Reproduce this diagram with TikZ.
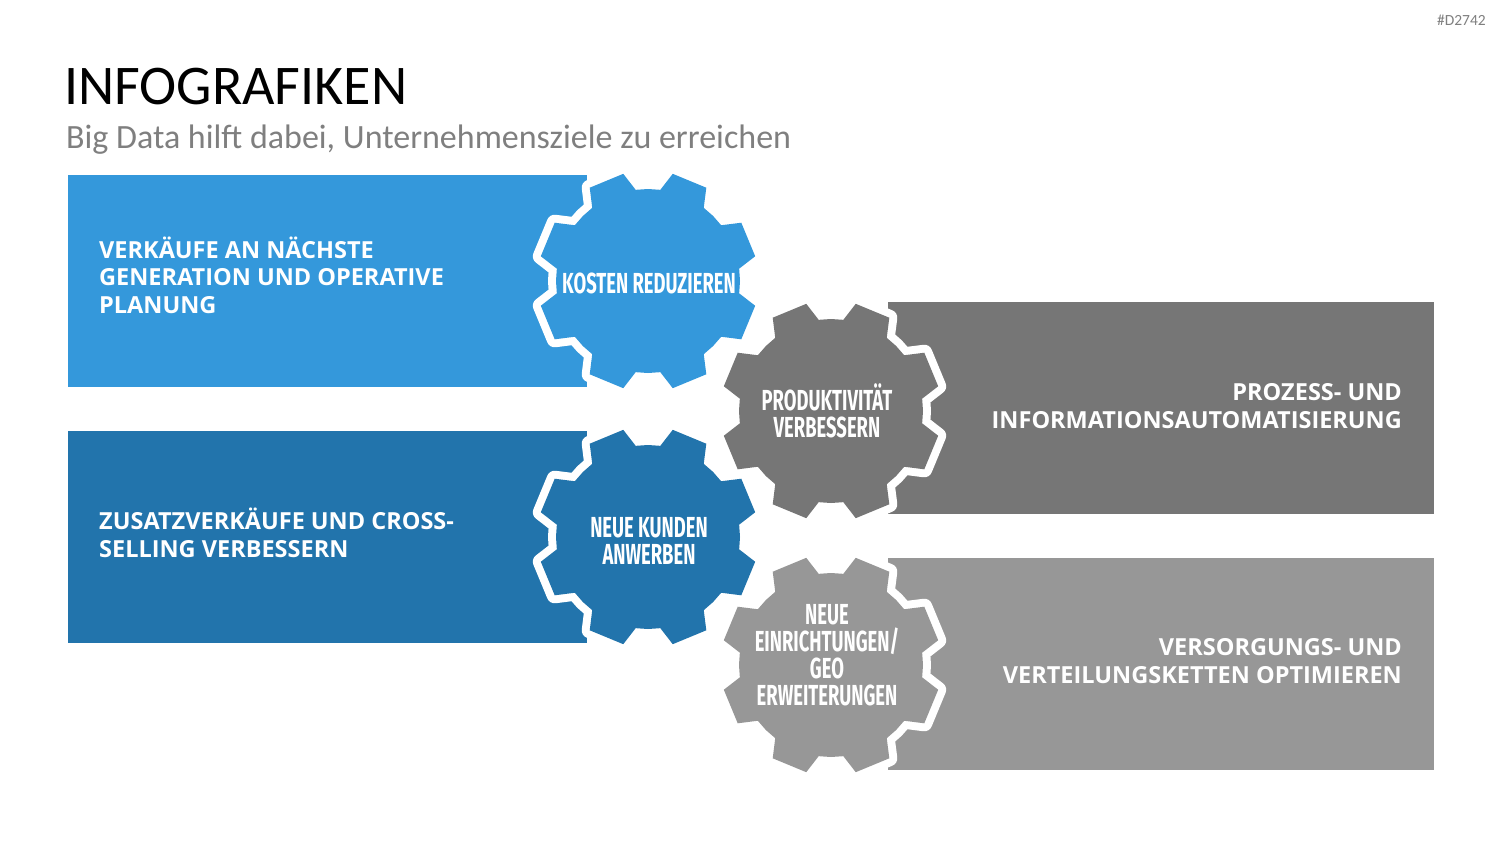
\documentclass[tikz,border=0pt]{standalone}
\usepackage{fontspec}
\usepackage{xcolor}
\setmainfont{Carlito}
\newfontfamily\panelfont{Open Sans}
\newfontfamily\gearfont[FakeStretch=0.635]{Fira Sans}
\definecolor{InfoBlue}{HTML}{3498DB}
\definecolor{InfoDarkBlue}{HTML}{2274AC}
\definecolor{InfoDarkGray}{HTML}{767676}
\definecolor{InfoLightGray}{HTML}{979797}
\definecolor{InfoText}{HTML}{7F7F7F}
% gear with 8 teeth: centre x, centre y, colour
\newcommand{\gearshape}[3]{%
  \fill[gear=#3,shift={(#1,#2)}] (0:92)
    \foreach \a in {22.5,67.5,...,337.5}{
      -- (\a-14.8:92) -- (\a-9.5:110) -- (\a+9.5:110) -- (\a+14.8:92)
      -- (\a+22.5:92)} -- cycle;}

\begin{document}
\begin{tikzpicture}[x=1pt,y=-1pt,
  gear/.style={fill=#1,preaction={draw=white,line width=16pt,line join=round}},
  panel/.style={fill=#1},
  paneltxt/.style={text=white,inner sep=0pt,
    font=\panelfont\bfseries\fontsize{23.5}{27.5}\selectfont},
  geartxt/.style={text=white,inner sep=0pt,align=center,
    font=\gearfont\bfseries\fontsize{29}{27}\selectfont}]
  \useasboundingbox (0,0) rectangle (1500,844);

  \node[anchor=base east,text=InfoText,inner sep=0pt,font=\fontsize{15.5}{17}\selectfont]
    (tag) at (1486,25) {\#D2742};
  \node[anchor=base west,inner sep=0pt,font=\fontsize{56}{60}\selectfont]
    (title) at (64,104) {INFOGRAFIKEN};
  \node[anchor=base west,inner sep=0pt,text=InfoText,font=\fontsize{34}{36}\selectfont]
    (subtitle) at (66,148) {Big Data hilft dabei, Unternehmensziele zu erreichen};

  % left panels and blue gears
  \fill[panel=InfoBlue] (68,175) rectangle (587,387);
  \fill[panel=InfoDarkBlue] (68,431) rectangle (587,643);
  \gearshape{648}{281}{InfoBlue}
  \gearshape{648}{537}{InfoDarkBlue}

  % right panels and gray gears
  \fill[panel=InfoDarkGray] (888,302) rectangle (1434,514);
  \fill[panel=InfoLightGray] (888,558) rectangle (1434,770);
  \gearshape{831}{411}{InfoDarkGray}
  \gearshape{831}{665}{InfoLightGray}

  \node[paneltxt,anchor=base west,align=left] (sales) at (99,313)
    {VERKÄUFE AN NÄCHSTE\\GENERATION UND OPERATIVE\\PLANUNG};
  \node[paneltxt,anchor=base west,align=left] (cross) at (99,557)
    {ZUSATZVERKÄUFE UND CROSS-\\SELLING VERBESSERN};
  \node[paneltxt,anchor=base east,align=right] (process) at (1402,428)
    {PROZESS- UND\\INFORMATIONSAUTOMATISIERUNG};
  \node[paneltxt,anchor=base east,align=right] (supply) at (1402,683)
    {VERSORGUNGS- UND\\VERTEILUNGSKETTEN OPTIMIEREN};

  \node[geartxt] (costs) at (649,283) {KOSTEN REDUZIEREN};
  \node[geartxt] (prod) at (827,411) {PRODUKTIVITÄT\\VERBESSERN};
  \node[geartxt] (customers) at (649,541) {NEUE KUNDEN\\ANWERBEN};
  \node[geartxt] (sites) at (827,655) {NEUE\\EINRICHTUNGEN/\\GEO\\ERWEITERUNGEN};
\end{tikzpicture}
\end{document}
